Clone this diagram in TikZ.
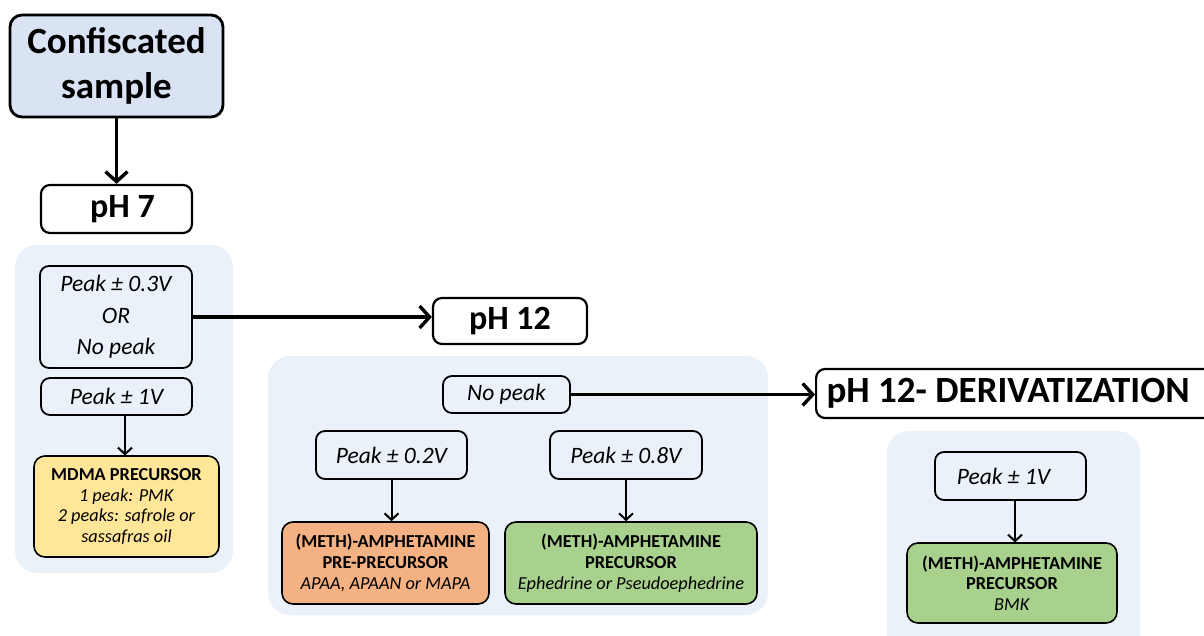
\documentclass[tikz,border=0pt]{standalone}
\usepackage{fontspec}
\setmainfont{Carlito}
\usetikzlibrary{arrows.meta}
\definecolor{samplefill}{HTML}{DAE3F3}
\definecolor{panelfill}{HTML}{EBF1F8}
\definecolor{yellowfill}{HTML}{FFE699}
\definecolor{orangefill}{HTML}{F4B183}
\definecolor{greenfill}{HTML}{A9D18E}
\tikzset{
  panel/.style={fill=panelfill, draw=none, rounded corners=22pt},
  bigbox/.style={draw=black, line width=2.8pt, rounded corners=12pt, inner sep=0pt, align=center, font=\bfseries\fontsize{37}{45}\selectfont},
  phbox/.style={draw=black, fill=white, line width=2.2pt, rounded corners=9pt, inner sep=0pt, align=center, font=\bfseries\fontsize{34}{38}\selectfont},
  condbox/.style={draw=black, line width=1.8pt, rounded corners=9pt, inner sep=0pt, align=center, font=\itshape\fontsize{23.5}{31.5}\selectfont},
  resbox/.style={draw=black, line width=1.6pt, rounded corners=11pt, inner sep=0pt, align=center, font=\fontsize{18.3}{20.8}\selectfont},
  bigarrow/.style={line width=3.6pt, -{Straight Barb[length=10pt,width=22pt,line width=3.4pt]}},
  smallarrow/.style={line width=2pt, -{Straight Barb[length=6.5pt,width=14pt,line width=2pt]}}
}
\begin{document}
\begin{tikzpicture}[x=1pt,y=-1pt]
\useasboundingbox (0,0) rectangle (1204,635);
% panels
\fill[panel] (15,245) rectangle (233,573);
\fill[panel] (268,356) rectangle (768,615);
\fill[panel] (887,431) rectangle (1140,660);
% top
\node[bigbox, fill=samplefill, minimum width=213pt, minimum height=102pt] (sample) at (116.5,66) {Confiscated\\sample};
\node[phbox, minimum width=151pt, minimum height=48pt] (ph7) at (116.5,209) {\hspace*{12pt}pH 7};
\draw[bigarrow] (sample.south) -- (ph7.north);
% panel 1
\node[condbox, fill=panelfill, minimum width=152pt, minimum height=102pt] (c03) at (116,317) {Peak \char"00B1\ 0.3V\\OR\\No peak};
\node[condbox, fill=panelfill, minimum width=151pt, minimum height=37pt] (c1a) at (116.5,396.5) {Peak \char"00B1\ 1V};
\node[resbox, fill=yellowfill, minimum width=185pt, minimum height=101pt] (mdma) at (126.5,506.5) {\textbf{MDMA PRECURSOR}\\\textit{1 peak: PMK}\\\textit{2 peaks: safrole or}\\\textit{sassafras oil}};
\draw[smallarrow] (125,415) -- (125,455.5);
% pH 12
\node[phbox, minimum width=154pt, minimum height=46pt] (ph12) at (510,321) {pH 12};
\draw[bigarrow] (c03.east) -- (c03.east -| ph12.west);
% panel 2
\node[condbox, fill=panelfill, minimum width=127pt, minimum height=37pt] (np) at (506.5,394.5) {No peak};
\node[phbox, minimum width=400pt, minimum height=49pt, anchor=west, font=\bfseries\fontsize{37}{40}\selectfont] (deriv) at (815,393.5) {pH 12- DERIVATIZATION\hspace*{16pt}};
\draw[bigarrow] (np.east) -- (np.east -| deriv.west);
\node[condbox, fill=panelfill, minimum width=151pt, minimum height=48pt] (c02) at (391.5,455) {Peak \char"00B1\ 0.2V};
\node[condbox, fill=panelfill, minimum width=152pt, minimum height=48pt] (c08) at (626,455) {Peak \char"00B1\ 0.8V};
\node[resbox, fill=orangefill, minimum width=207pt, minimum height=82pt] (pre) at (385.5,563) {\textbf{(METH)-AMPHETAMINE}\\\textbf{PRE-PRECURSOR}\\\textit{APAA, APAAN or MAPA}};
\node[resbox, fill=greenfill, minimum width=252pt, minimum height=82pt] (eph) at (631,563) {\textbf{(METH)-AMPHETAMINE}\\\textbf{PRECURSOR}\\\textit{Ephedrine or Pseudoephedrine}};
\draw[smallarrow] (c02.south) -- (pre.north -| c02.south);
\draw[smallarrow] (c08.south) -- (eph.north -| c08.south);
% panel 3
\node[condbox, fill=panelfill, minimum width=151pt, minimum height=48pt] (c1b) at (1010.5,476) {\hspace*{-14pt}Peak \char"00B1\ 1V};
\node[resbox, fill=greenfill, minimum width=210pt, minimum height=80pt] (bmk) at (1012,583) {\textbf{(METH)-AMPHETAMINE}\\\textbf{PRECURSOR}\\\textit{BMK}};
\draw[smallarrow] (1015,500) -- (1015,542.5);
\end{tikzpicture}
\end{document}
